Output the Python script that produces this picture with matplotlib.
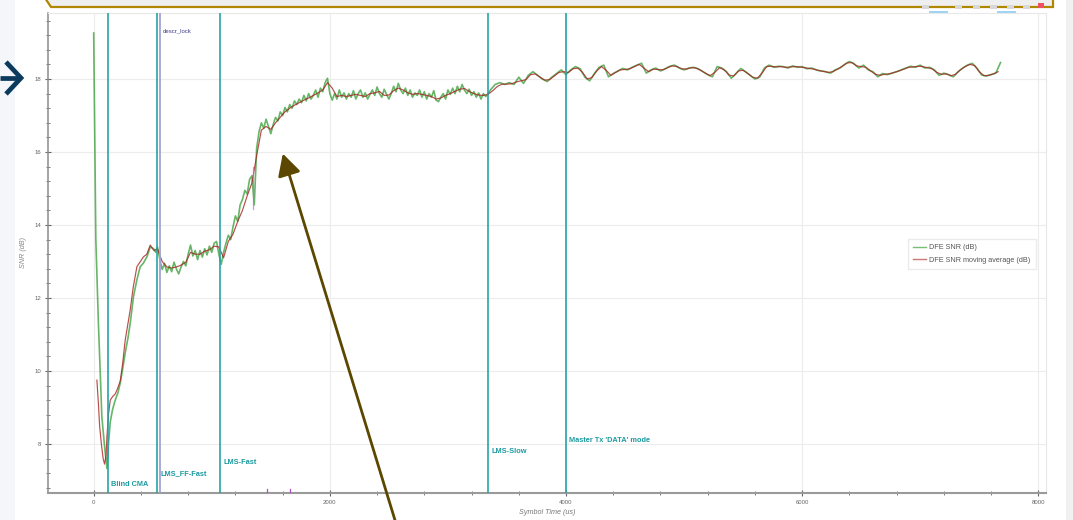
import numpy as np
import matplotlib
matplotlib.use("Agg")
import matplotlib.pyplot as plt
from matplotlib.patches import Polygon, Rectangle
from matplotlib.lines import Line2D

plt.rcParams['font.family'] = ['Liberation Sans', 'DejaVu Sans']

# ---------------- data ----------------
# DFE SNR (dB) - initial convergence
green_x_start = [0, 2, 18, 40, 69, 90, 112, 125, 140, 160, 182, 205, 225, 245, 267, 290,
                 309, 337, 366, 394, 420, 451, 479, 507, 525]
green_y_start = [19.26, 18.57, 13.6, 11.3, 8.75, 8.0, 7.33, 8.0, 8.6, 8.95, 9.2, 9.4, 9.67,
                 10.05, 10.5, 10.9, 11.3, 12.04, 12.5, 12.86, 12.95, 13.13, 13.4, 13.35, 13.25]
# DFE SNR (dB) - samples every 20 us from 540 to 3340
green_y_mid = [
    13.40, 13.05, 12.78, 12.95, 12.70, 12.88, 12.72, 12.98, 12.80, 12.66,
    12.85, 13.00, 12.88, 13.20, 13.45, 13.15, 13.30, 13.05, 13.30, 13.12,
    13.35, 13.18, 13.42, 13.25, 13.50, 13.55, 13.20, 12.92, 13.25, 13.50,
    13.72, 13.60, 13.95, 14.25, 14.10, 14.55, 14.70, 14.95, 14.85, 15.25,
    15.35, 14.55, 16.10, 16.55, 16.80, 16.65, 16.90, 16.70, 16.50, 16.75,
    16.95, 16.85, 17.10, 17.00, 17.22, 17.10, 17.30, 17.20, 17.40, 17.30,
    17.45, 17.35, 17.55, 17.40, 17.60, 17.45, 17.55, 17.70, 17.50, 17.75,
    17.65, 17.90, 18.02, 17.60, 17.42, 17.60, 17.45, 17.70, 17.50, 17.62,
    17.45, 17.60, 17.50, 17.68, 17.45, 17.60, 17.70, 17.50, 17.62, 17.45,
    17.58, 17.70, 17.55, 17.78, 17.60, 17.50, 17.72, 17.58, 17.45, 17.60,
    17.80, 17.65, 17.88, 17.70, 17.60, 17.75, 17.55, 17.70, 17.50, 17.62,
    17.55, 17.70, 17.50, 17.65, 17.45, 17.60, 17.50, 17.68, 17.42, 17.38,
    17.50, 17.60, 17.45, 17.70, 17.58, 17.75, 17.60, 17.80, 17.65, 17.85,
    17.70, 17.60, 17.72, 17.55, 17.65, 17.50, 17.62, 17.45, 17.60, 17.52,
    17.60]
# DFE SNR (dB) - samples every 40 us from 3360 to 7680
green_y_end = [
    17.70, 17.85, 17.90, 17.85, 17.90, 17.85, 18.05, 17.88, 18.10, 18.20,
    18.10, 18.00, 17.93, 18.05, 18.15, 18.25, 18.12, 18.25, 18.34, 18.28,
    18.05, 17.95, 18.15, 18.32, 18.38, 18.06, 18.15, 18.22, 18.29, 18.25,
    18.32, 18.38, 18.43, 18.16, 18.25, 18.30, 18.22, 18.28, 18.35, 18.38,
    18.30, 18.25, 18.30, 18.32, 18.28, 18.20, 18.12, 18.06, 18.34, 18.30,
    18.20, 18.02, 18.15, 18.29, 18.20, 18.10, 18.00, 18.05, 18.30, 18.38,
    18.32, 18.35, 18.34, 18.30, 18.36, 18.32, 18.34, 18.28, 18.30, 18.25,
    18.22, 18.20, 18.16, 18.25, 18.30, 18.40, 18.48, 18.42, 18.30, 18.38,
    18.25, 18.20, 18.06, 18.15, 18.12, 18.16, 18.20, 18.25, 18.30, 18.35,
    18.32, 18.38, 18.30, 18.32, 18.25, 18.10, 18.16, 18.12, 18.06, 18.20,
    18.30, 18.38, 18.43, 18.30, 18.11, 18.08, 18.12, 18.16, 18.45]

# DFE SNR moving average (dB)
red_x_start = [27, 40, 50, 65, 80, 92, 105, 112, 125, 140, 160, 182, 200, 225, 245, 267,
               290, 309, 335, 366, 395, 422, 450, 479, 510]
red_y_start = [9.75, 9.1, 8.5, 8.0, 7.6, 7.45, 7.7, 8.2, 8.8, 9.2, 9.3, 9.37, 9.5, 9.73,
               10.2, 10.85, 11.3, 11.67, 12.3, 12.86, 13.0, 13.13, 13.2, 13.45, 13.3]
# every 40 us from 540 to 3340
red_y_mid = [
    13.35, 13.00, 12.85, 12.82, 12.85, 12.90, 12.98, 13.25, 13.20, 13.20,
    13.28, 13.32, 13.42, 13.40, 13.10, 13.55, 13.75, 14.10, 14.40, 14.80,
    15.15, 15.90, 16.60, 16.70, 16.62, 16.80, 16.95, 17.10, 17.20, 17.28,
    17.35, 17.42, 17.48, 17.55, 17.62, 17.70, 17.90, 17.75, 17.52, 17.55,
    17.52, 17.55, 17.58, 17.55, 17.52, 17.60, 17.62, 17.66, 17.55, 17.56,
    17.68, 17.75, 17.70, 17.62, 17.58, 17.60, 17.58, 17.55, 17.52, 17.45,
    17.48, 17.55, 17.60, 17.66, 17.72, 17.74, 17.66, 17.60, 17.56, 17.55,
    17.58]
# every 40 us from 3380 to 7660
red_y_end = [
    17.68, 17.80, 17.86, 17.86, 17.87, 17.92, 17.95, 17.98, 18.12, 18.14,
    18.05, 17.97, 17.98, 18.08, 18.18, 18.20, 18.18, 18.28, 18.30, 18.18,
    18.00, 18.04, 18.22, 18.34, 18.24, 18.10, 18.18, 18.25, 18.26, 18.28,
    18.34, 18.40, 18.30, 18.20, 18.27, 18.26, 18.25, 18.31, 18.36, 18.34,
    18.28, 18.27, 18.31, 18.30, 18.24, 18.16, 18.09, 18.18, 18.31, 18.25,
    18.11, 18.08, 18.22, 18.24, 18.15, 18.05, 18.02, 18.16, 18.34, 18.35,
    18.33, 18.34, 18.32, 18.33, 18.34, 18.33, 18.31, 18.29, 18.27, 18.23,
    18.21, 18.18, 18.20, 18.27, 18.35, 18.44, 18.45, 18.36, 18.34, 18.32,
    18.22, 18.13, 18.10, 18.13, 18.14, 18.18, 18.22, 18.27, 18.32, 18.33,
    18.35, 18.34, 18.31, 18.28, 18.18, 18.13, 18.14, 18.09, 18.13, 18.25,
    18.34, 18.40, 18.37, 18.20, 18.09, 18.10, 18.14, 18.20]

# phase markers
phase_x = [121, 537, 1070, 3339, 3999]
phase_labels = ["Blind CMA", "LMS_FF-Fast", "LMS-Fast", "LMS-Slow", "Master Tx 'DATA' mode"]
lock_x = 561
lock_label = "descr_lock"
event_ticks_x = [1468, 1662]

x_ticks = [0, 2000, 4000, 6000, 8000]
y_ticks = [8, 10, 12, 14, 16, 18]

# ---------------- assemble ----------------
gx = np.concatenate([green_x_start,
                     540 + 20 * np.arange(len(green_y_mid)),
                     3360 + 40 * np.arange(len(green_y_end))])
gy = np.concatenate([green_y_start, green_y_mid, green_y_end])
rx = np.concatenate([red_x_start,
                     540 + 40 * np.arange(len(red_y_mid)),
                     3380 + 40 * np.arange(len(red_y_end))])
ry = np.concatenate([red_y_start, red_y_mid, red_y_end])

W, H = 1073, 520
fig = plt.figure(figsize=(W / 100, H / 100), dpi=100)
fig.patch.set_facecolor('white')

# page decorations (figure pixel coords)
fig.patches.append(Rectangle((0, 0), 15, H, transform=None, facecolor='#f4f6f9',
                             edgecolor='none', zorder=0))
fig.patches.append(Rectangle((1066, 0), 7, H, transform=None, facecolor='#f1f1f1',
                             edgecolor='none', zorder=0))

ax_l, ax_r, ax_t, ax_b = 48, 1046, 13, 493
ax = fig.add_axes([ax_l / W, (H - ax_b) / H, (ax_r - ax_l) / W, (ax_b - ax_t) / H])
ax.set_facecolor('white')

pxu = (1038.3 - 93.7) / 8000
ax.set_xlim((ax_l - 93.7) / pxu, (ax_r - 93.7) / pxu)
pdb = (444 - 79) / 10
ax.set_ylim(8 - (ax_b - 444) / pdb, 18 + (79 - ax_t) / pdb)

ax.grid(True, which='major', color='#ececec', lw=0.8, zorder=0)
ax.set_axisbelow(True)

ax.plot(gx, gy, color='#1f941f', lw=1.2, alpha=0.68, zorder=3, label='DFE SNR (dB)')
ax.plot(rx, ry, color='#a82020', lw=0.85, alpha=0.8, zorder=4,
        label='DFE SNR moving average (dB)')

# purple spike/event marks
ax.plot([1350, 1350], [14.45, 15.6], color='#b070d0', lw=0.9, alpha=0.7, zorder=5)
ybot = ax.get_ylim()[0]
for ex in event_ticks_x:
    ax.plot([ex, ex], [ybot, ybot + 0.1], color='#b050c0', lw=0.9, zorder=5)

teal = '#22a1a6'
for i, (px_, lab) in enumerate(zip(phase_x, phase_labels)):
    ax.axvline(px_, color=teal, lw=1.3, alpha=0.9, zorder=6)
    ax.annotate(lab, xy=(px_, 6.9 + 0.3 * i), xytext=(2.2, 0), textcoords='offset points',
                color='#1a9aa0', fontsize=5.3, fontweight='bold', va='center', ha='left',
                zorder=7)
ax.axvline(lock_x, color='#a4a4d6', lw=1.3, zorder=6)
ax.annotate(lock_label, xy=(lock_x, 19.31), xytext=(2.2, 0), textcoords='offset points',
            color='#3d3d90', fontsize=4.3, va='center', ha='left')

# axes styling
for s in ['top', 'right']:
    ax.spines[s].set_color('#e8e8e8')
    ax.spines[s].set_linewidth(0.8)
ax.spines['left'].set_color('#8c8c8c')
ax.spines['left'].set_linewidth(1.1)
ax.spines['bottom'].set_color('#9a9a9a')
ax.spines['bottom'].set_linewidth(1.5)

ax.set_xticks(x_ticks)
ax.set_xticks(np.arange(400, 8000, 400), minor=True)
ax.set_yticks(y_ticks)
ax.set_yticks(np.arange(6.8, 19.81, 0.4), minor=True)
ax.tick_params(axis='both', which='major', direction='inout', length=4, width=0.8,
               color='#666666', labelsize=4.3, labelcolor='#666666', pad=3)
ax.tick_params(axis='both', which='minor', direction='inout', length=3, width=0.6,
               color='#666666')
ax.set_xlabel('Symbol Time (us)', fontsize=5.2, style='italic', color='#777777', labelpad=3)
ax.set_ylabel('SNR (dB)', fontsize=5.2, style='italic', color='#888888', labelpad=5)

leg = ax.legend(loc='upper right', bbox_to_anchor=(0.994, 0.5375), fontsize=5.2,
                frameon=True, fancybox=False, edgecolor='#e6e6e6', handlelength=1.7,
                handletextpad=0.5, borderpad=0.8, labelspacing=0.7)
for t in leg.get_texts():
    t.set_color('#555555')
for l in leg.get_lines():
    l.set_alpha(0.6)
    l.set_linewidth(1.0)

# top annotation box (partly off-screen)
fig.patches.append(Polygon([(45, H + 2), (51, H - 7), (1053, H - 7), (1053, H + 2)],
                           closed=True, transform=None, facecolor='#efefef',
                           edgecolor='#b08800', lw=1.6, zorder=10))

# toolbar hints top-right
for x0 in [930, 998]:
    fig.lines.append(Line2D([x0, x0 + 17], [H - 12, H - 12], transform=None,
                            color='#9fd3f0', lw=1.4, zorder=11))
for x0 in [922, 955, 973, 990, 1007, 1023]:
    fig.patches.append(Rectangle((x0, H - 9), 7, 4, transform=None, facecolor='#d8d8d8',
                                 edgecolor='none', zorder=11))
fig.patches.append(Rectangle((1038, H - 8), 6, 5, transform=None, facecolor='#f05060',
                             edgecolor='none', zorder=11))

# left navigation arrow
navy = '#0c3a5d'
fig.lines.append(Line2D([0, 19], [H - 78, H - 78], transform=None, color=navy, lw=3.4,
                        solid_capstyle='butt', zorder=11))
fig.lines.append(Line2D([6, 21, 6], [H - 62, H - 78, H - 94], transform=None, color=navy,
                        lw=3.4, solid_joinstyle='miter', solid_capstyle='butt', zorder=11))

# pointer arrow
fig.add_artist(matplotlib.patches.FancyArrowPatch(
    (398, -10), (282, H - 151), transform=None,
    arrowstyle='-|>,head_length=6,head_width=3.2', mutation_scale=2.2,
    color='#5b4700', lw=2.0, zorder=12))

fig.savefig('out.png', dpi=100)
